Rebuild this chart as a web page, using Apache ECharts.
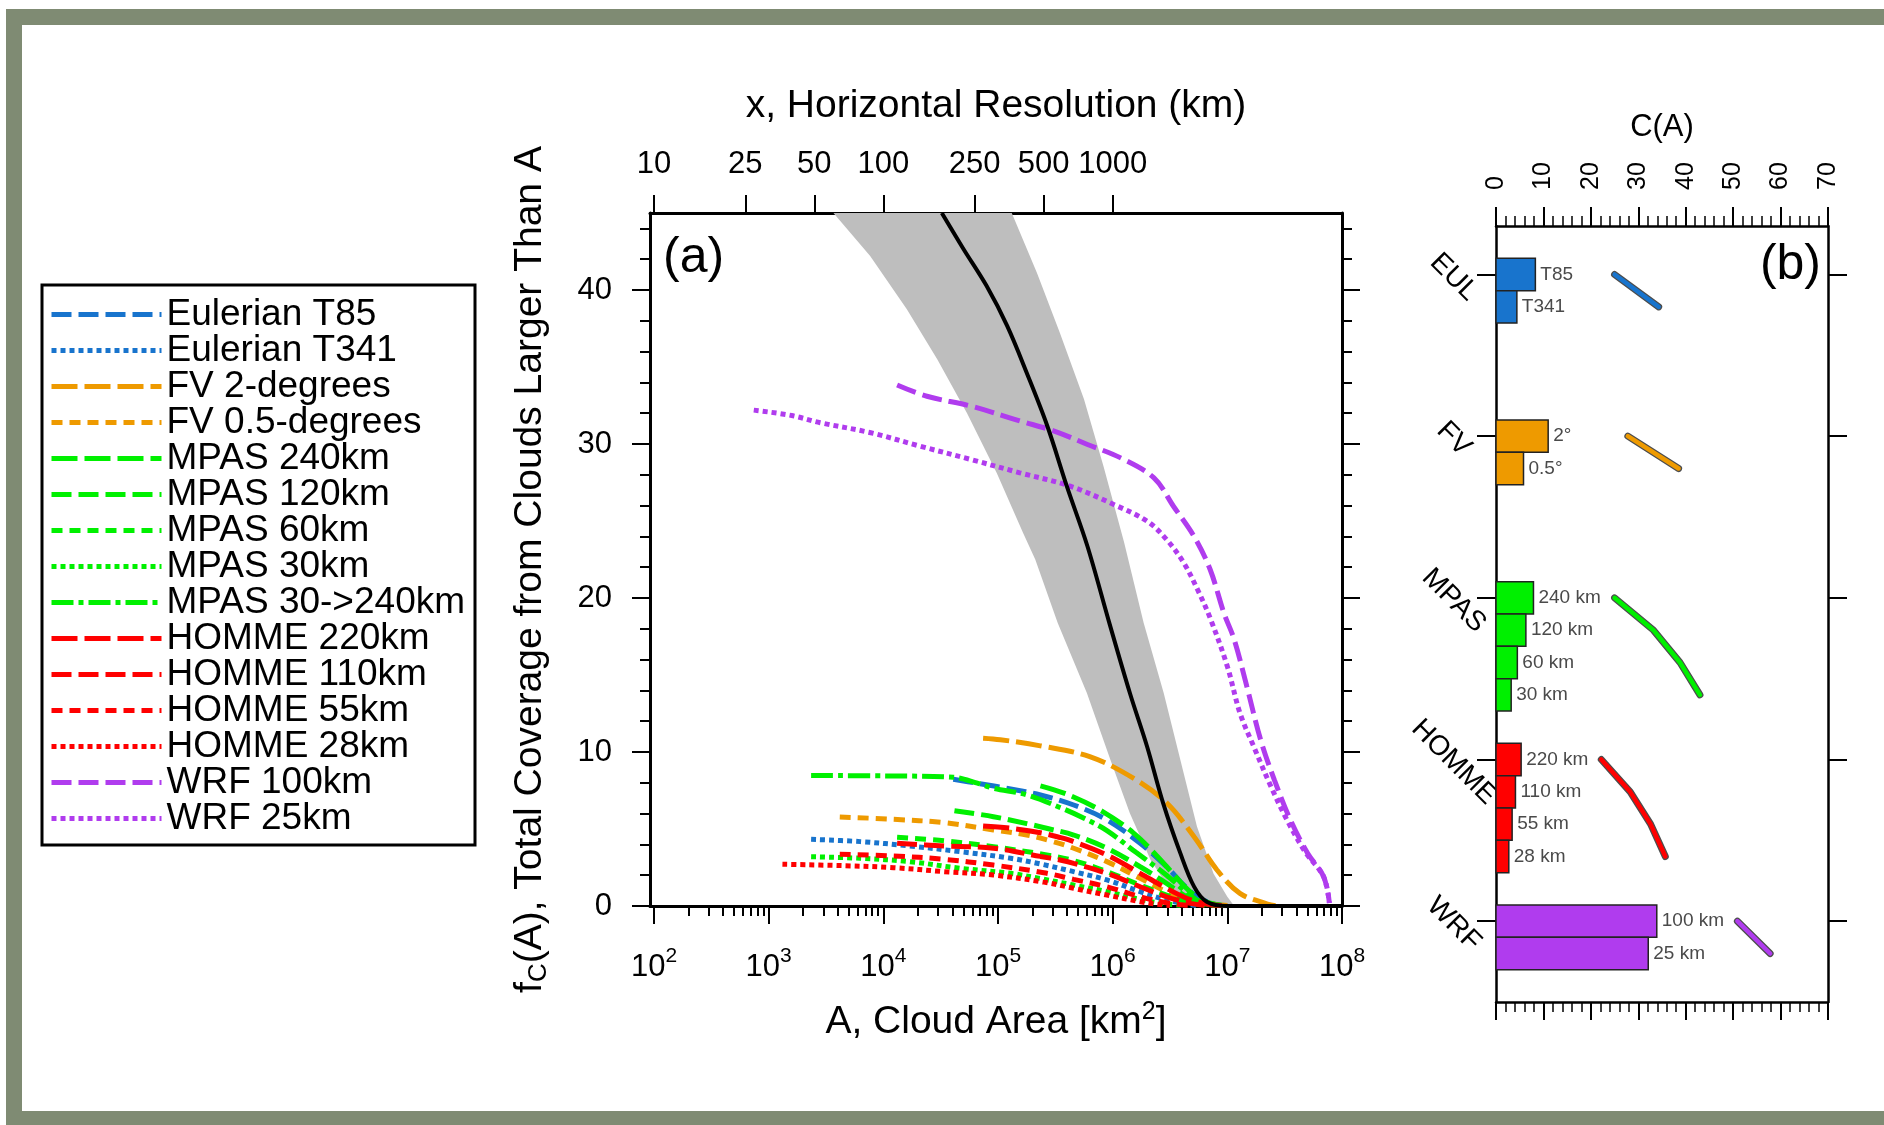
<!DOCTYPE html>
<html><head><meta charset="utf-8">
<script src="https://cdn.jsdelivr.net/npm/echarts@6/dist/echarts.min.js"></script>
<style>html,body{margin:0;padding:0;background:#fff}#c{width:1884px;height:1125px}</style>
</head><body><div id="c"></div>
<script>
// ---------- Panel (a): x = log10(A, km^2), y = f_C(A) ----------
const eulT85 = [[4.61,8.23],[4.82,7.97],[5.11,7.6],[5.37,7.21],[5.66,6.56],[5.95,5.59],[6.24,4.07],[6.47,2.55],[6.62,1.36],[6.74,0.6],[6.88,0.13],[7.0,0.02]];
const eulT341 = [[3.37,4.33],[3.80,4.18],[4.23,3.90],[4.67,3.53],[5.11,3.10],[5.37,2.73],[5.66,2.23],[5.95,1.69],[6.24,0.93],[6.47,0.39],[6.65,0.11],[6.75,0.02]];
const fv2deg = [[4.87,10.9],[5.02,10.8],[5.37,10.4],[5.8,9.7],[6.18,8.3],[6.47,6.7],[6.71,4.5],[6.91,2.34],[7.11,0.82],[7.35,0.13],[7.42,0.02]];
const fv05deg = [[3.62,5.78],[4.09,5.63],[4.53,5.41],[4.96,4.94],[5.25,4.61],[5.45,4.25],[5.66,3.75],[5.95,2.88],[6.24,1.80],[6.47,0.93],[6.68,0.39],[6.88,0.13],[7.0,0.03]];
const mpas240 = [[5.37,7.8],[5.62,7.2],[5.92,6.1],[6.18,4.75],[6.38,3.3],[6.55,1.9],[6.68,0.9],[6.8,0.3],[6.95,0.05]];
const mpas120 = [[4.62,6.19],[4.96,5.80],[5.25,5.35],[5.45,5.0],[5.66,4.61],[5.95,3.75],[6.24,2.55],[6.47,1.47],[6.62,0.71],[6.76,0.21],[6.94,0.05]];
const mpas60 = [[4.12,4.46],[4.53,4.24],[4.96,3.85],[5.40,3.35],[5.66,2.95],[5.95,2.23],[6.24,1.36],[6.47,0.71],[6.68,0.21],[6.82,0.05]];
const mpas30 = [[3.37,3.2],[3.80,3.10],[4.23,2.88],[4.67,2.45],[5.11,2.12],[5.37,1.78],[5.66,1.36],[5.95,0.93],[6.24,0.43],[6.42,0.17],[6.59,0.05]];
const mpas30to240 = [[3.37,8.47],[4.0,8.45],[4.61,8.36],[4.82,7.98],[4.96,7.65],[5.25,7.22],[5.54,6.4],[5.75,5.7],[5.95,4.9],[6.2,3.5],[6.47,2.0],[6.62,1.04],[6.76,0.28],[6.9,0.05]];
const homme220 = [[4.87,5.2],[5.11,5.05],[5.37,4.76],[5.54,4.45],[5.66,4.18],[5.95,3.31],[6.24,2.12],[6.47,1.15],[6.65,0.49],[6.82,0.13],[6.95,0.03]];
const homme110 = [[4.12,4.07],[4.53,3.9],[4.96,3.75],[5.37,3.22],[5.54,2.99],[5.66,2.77],[5.95,2.12],[6.24,1.25],[6.47,0.6],[6.68,0.17],[6.8,0.04]];
const homme55 = [[3.62,3.36],[4.09,3.25],[4.53,3.03],[4.96,2.66],[5.40,2.16],[5.66,1.73],[5.95,1.25],[6.24,0.6],[6.47,0.21],[6.62,0.07],[6.7,0.02]];
const homme28 = [[3.12,2.71],[3.65,2.62],[4.09,2.49],[4.53,2.23],[4.96,2.01],[5.40,1.55],[5.66,1.15],[5.95,0.71],[6.24,0.28],[6.39,0.11],[6.5,0.03]];
const wrf100 = [[4.12,33.83],[4.38,33.1],[4.76,32.47],[5.19,31.5],[5.49,30.84],[5.78,29.97],[6.07,29.1],[6.36,27.8],[6.53,25.96],[6.71,24.0],[6.85,21.85],[6.97,19.03],[7.06,17.3],[7.17,14.26],[7.29,10.8],[7.41,8.19],[7.55,5.59],[7.70,3.43],[7.84,1.9],[7.89,0.2]];
const wrf25 = [[2.87,32.2],[3.2,31.85],[3.45,31.38],[3.89,30.73],[4.32,29.86],[4.76,29.0],[5.19,28.13],[5.63,27.26],[6.01,26.07],[6.30,24.99],[6.47,23.8],[6.62,22.28],[6.74,20.55],[6.85,18.7],[7.0,15.56],[7.11,12.53],[7.23,10.36],[7.38,7.76],[7.52,5.59],[7.68,3.5],[7.84,1.9],[7.89,0.2]];
const fitCurve = [[4.51,45],[4.70,42.65],[4.90,40.27],[5.08,37.67],[5.25,34.63],[5.43,31.17],[5.60,27.26],[5.78,23.36],[5.97,18.4],[6.15,13.83],[6.30,10.36],[6.44,6.68],[6.59,3.43],[6.71,1.26],[6.82,0.28],[7.0,0],[8.0,0]];
const bandLeft = [[3.565,45],[3.885,42.2],[4.205,38.75],[4.47,35.5],[4.73,32.0],[4.99,28.1],[5.22,24.2],[5.325,22.5],[5.52,18.4],[5.775,13.83],[5.98,9.5],[6.15,6.03],[6.33,3.0],[6.50,1.04],[6.65,0.17],[6.76,0]];
const bandRight = [[5.12,45],[5.34,41.1],[5.54,37.2],[5.75,32.9],[5.92,28.56],[6.10,23.6],[6.27,18.4],[6.445,13.83],[6.59,9.5],[6.735,5.16],[6.88,2.1],[7.0,0.6],[7.06,0]];

const areaExponents = [2,3,4,5,6,7,8];           // bottom tick labels 10^n
const resolutionKm = [10,25,50,100,250,500,1000]; // top tick labels (A = x^2)
const coverageTicks = [0,10,20,30,40];

// ---------- Panel (b) ----------
const models = ['EUL','FV','MPAS','HOMME','WRF'];
const barValues = [8.3,4.4, 11.0,5.8, 7.9,6.3,4.5,3.2, 5.3,4.1,3.4,2.7, 33.9,32.1];
const barPositions = [0,0.2, 1,1.2, 2,2.2,2.4,2.6, 3,3.2,3.4,3.6, 4,4.2];
const barModel = [0,0, 1,1, 2,2,2,2, 3,3,3,3, 4,4];
const barLabels = ['T85','T341','2°','0.5°','240 km','120 km','60 km','30 km','220 km','110 km','55 km','28 km','100 km','25 km'];
const eulLine = [[25.0,0],[34.3,0.2]];
const fvLine = [[27.8,1.0],[38.5,1.2]];
const mpasLine = [[25.0,2.0],[33.2,2.2],[38.8,2.4],[43.0,2.6]];
const hommeLine = [[22.2,3.0],[28.3,3.2],[32.6,3.4],[35.7,3.6]];
const wrfLine = [[50.9,4.0],[57.8,4.2]];

const FONT = 'Liberation Sans, Arial, Helvetica, sans-serif';
const BLUE='#1874cd', ORANGE='#ee9a00', GREEN='#00f000', RED='#ff0000', PURPLE='#b03cee';
const modelColors = [BLUE, ORANGE, GREEN, RED, PURPLE];

const LONG=[26,7], MED=[20,7], SHORT=[11,7], DOT=[5,4], DASHDOT=[22,5,5,5];
const curves = [
  {name:'Eulerian T85', data:eulT85, color:BLUE, dash:MED},
  {name:'Eulerian T341', data:eulT341, color:BLUE, dash:DOT},
  {name:'FV 2-degrees', data:fv2deg, color:ORANGE, dash:LONG},
  {name:'FV 0.5-degrees', data:fv05deg, color:ORANGE, dash:SHORT},
  {name:'MPAS 240km', data:mpas240, color:GREEN, dash:LONG},
  {name:'MPAS 120km', data:mpas120, color:GREEN, dash:MED},
  {name:'MPAS 60km', data:mpas60, color:GREEN, dash:SHORT},
  {name:'MPAS 30km', data:mpas30, color:GREEN, dash:DOT},
  {name:'MPAS 30->240km', data:mpas30to240, color:GREEN, dash:DASHDOT},
  {name:'HOMME 220km', data:homme220, color:RED, dash:LONG},
  {name:'HOMME 110km', data:homme110, color:RED, dash:MED},
  {name:'HOMME 55km', data:homme55, color:RED, dash:SHORT},
  {name:'HOMME 28km', data:homme28, color:RED, dash:DOT},
  {name:'WRF 100km', data:wrf100, color:PURPLE, dash:MED},
  {name:'WRF 25km', data:wrf25, color:PURPLE, dash:DOT}
];

const XMIN = 1.965, XMAX = 8;
const majorLog = areaExponents.slice();
const minorLog = [];
for (let n = 2; n < 8; n++) for (let k = 2; k <= 9; k++) minorLog.push(n + Math.log10(k));
const resPos = resolutionKm.map(r => 2 * Math.log10(r));
const yMinor = [];
for (let v = 2; v <= 44; v += 2) if (v % 10 !== 0) yMinor.push(v);

const black = '#000';
const tickStyle = {color: black, width: 2};
const noSplit = {show: false};

const G0 = {left: 650, top: 213, width: 692, height: 693, outerBoundsMode: 'none', containLabel: false};
const G2 = {left: 1496, top: 226, width: 332, height: 776, outerBoundsMode: 'none', containLabel: false};

const option = {
  animation: false,
  backgroundColor: '#fff',
  textStyle: {fontFamily: FONT},
  grid: [G0, Object.assign({}, G0), G2],
  legend: {
    orient: 'vertical', left: 49, top: 296, padding: 0, itemGap: -1,
    itemWidth: 110, itemHeight: 20, selectedMode: false,
    data: curves.map(c => c.name),
    lineStyle: {width: 5},
    itemStyle: {opacity: 0, color: 'rgba(0,0,0,0)', borderWidth: 0},
    textStyle: {fontSize: 37, lineHeight: 36, color: black, fontFamily: FONT}
  },
  xAxis: [
    {gridIndex: 0, type: 'value', min: XMIN, max: XMAX, position: 'bottom',
     axisLine: {show: true, onZero: false, lineStyle: {color: black, width: 3}},
     axisTick: {show: true, customValues: majorLog, length: 18, lineStyle: tickStyle},
     axisLabel: {show: true, customValues: majorLog, margin: 40,
       formatter: v => '{b|10}{s|' + Math.round(v) + '}',
       rich: {b: {fontSize: 31, fontFamily: FONT, color: black, lineHeight: 42},
              s: {fontSize: 21, fontFamily: FONT, color: black, lineHeight: 21, verticalAlign: 'top'}}},
     splitLine: noSplit,
     name: 'A, Cloud Area [km{s|2}]', nameLocation: 'middle', nameGap: 94,
     nameTextStyle: {fontSize: 39, fontFamily: FONT, color: black, lineHeight: 44,
       rich: {s: {fontSize: 25, fontFamily: FONT, color: black, lineHeight: 25, verticalAlign: 'top'}}}},
    {gridIndex: 0, type: 'value', min: XMIN, max: XMAX, position: 'top',
     axisLine: {show: true, onZero: false, lineStyle: {color: black, width: 3}},
     axisTick: {show: true, customValues: resPos, length: 18, lineStyle: tickStyle},
     axisLabel: {show: true, customValues: resPos, margin: 33, fontSize: 31, color: black, fontFamily: FONT,
       formatter: v => { const i = resPos.findIndex(p => Math.abs(p - v) < 1e-6); return i >= 0 ? String(resolutionKm[i]) : ''; }},
     splitLine: noSplit,
     name: 'x, Horizontal Resolution (km)', nameLocation: 'middle', nameGap: 87,
     nameTextStyle: {fontSize: 39, fontFamily: FONT, color: black}},
    {gridIndex: 1, type: 'value', min: XMIN, max: XMAX, position: 'bottom',
     axisLine: {show: false, onZero: false},
     axisTick: {show: true, customValues: minorLog, length: 10, lineStyle: tickStyle},
     axisLabel: {show: false}, splitLine: noSplit},
    {gridIndex: 2, type: 'value', min: 0, max: 70, interval: 10, position: 'top',
     axisLine: {show: true, onZero: false, lineStyle: {color: black, width: 2.5}},
     axisTick: {show: true, length: 19, lineStyle: tickStyle},
     minorTick: {show: true, splitNumber: 5, length: 10, lineStyle: {color: black, width: 1.5}},
     axisLabel: {show: true, rotate: -90, margin: 36, fontSize: 25, color: black, fontFamily: FONT},
     splitLine: noSplit, minorSplitLine: {show: false},
     name: 'C(A)', nameLocation: 'middle', nameGap: 83,
     nameTextStyle: {fontSize: 31, fontFamily: FONT, color: black}},
    {gridIndex: 2, type: 'value', min: 0, max: 70, interval: 10, position: 'bottom',
     axisLine: {show: true, onZero: false, lineStyle: {color: black, width: 2.5}},
     axisTick: {show: true, length: 18, lineStyle: tickStyle},
     minorTick: {show: true, splitNumber: 5, length: 10, lineStyle: {color: black, width: 1.5}},
     axisLabel: {show: false}, splitLine: noSplit, minorSplitLine: {show: false}}
  ],
  yAxis: [
    {gridIndex: 0, type: 'value', min: 0, max: 45, position: 'left',
     axisLine: {show: true, onZero: false, lineStyle: {color: black, width: 3}},
     axisTick: {show: true, customValues: coverageTicks, length: 18, lineStyle: tickStyle},
     axisLabel: {show: true, customValues: coverageTicks, margin: 38, fontSize: 31, color: black, fontFamily: FONT},
     splitLine: noSplit,
     name: 'f{sub|C}(A), Total Coverage from Clouds Larger Than A', nameLocation: 'middle', nameGap: 98, nameRotate: 90,
     nameTextStyle: {fontSize: 39, fontFamily: FONT, color: black, lineHeight: 44, padding: [0, 20, 0, 0],
       rich: {sub: {fontSize: 26, fontFamily: FONT, color: black, lineHeight: 26, verticalAlign: 'bottom'}}}},
    {gridIndex: 0, type: 'value', min: 0, max: 45, position: 'right',
     axisLine: {show: true, onZero: false, lineStyle: {color: black, width: 3}},
     axisTick: {show: true, customValues: coverageTicks, length: 18, lineStyle: tickStyle},
     axisLabel: {show: false}, splitLine: noSplit},
    {gridIndex: 1, type: 'value', min: 0, max: 45, position: 'left',
     axisLine: {show: false, onZero: false},
     axisTick: {show: true, customValues: yMinor, length: 10, lineStyle: tickStyle},
     axisLabel: {show: false}, splitLine: noSplit},
    {gridIndex: 1, type: 'value', min: 0, max: 45, position: 'right',
     axisLine: {show: false, onZero: false},
     axisTick: {show: true, customValues: yMinor, length: 10, lineStyle: tickStyle},
     axisLabel: {show: false}, splitLine: noSplit},
    {gridIndex: 2, type: 'value', min: -0.3, max: 4.5, inverse: true, position: 'left',
     axisLine: {show: true, onZero: false, lineStyle: {color: black, width: 2.5}},
     axisTick: {show: true, customValues: [0,1,2,3,4], length: 19, lineStyle: tickStyle},
     axisLabel: {show: true, customValues: [0,1,2,3,4], rotate: -45, align: 'center', verticalAlign: 'middle',
       margin: 45, fontSize: 28, color: black, fontFamily: FONT, padding: [8, 0, 0, 8],
       formatter: v => models[Math.round(v)] || ''},
     splitLine: noSplit},
    {gridIndex: 2, type: 'value', min: -0.3, max: 4.5, inverse: true, position: 'right',
     axisLine: {show: true, onZero: false, lineStyle: {color: black, width: 2.5}},
     axisTick: {show: true, customValues: [0,1,2,3,4], length: 19, lineStyle: tickStyle},
     axisLabel: {show: false}, splitLine: noSplit}
  ],
  graphic: [
    {type: 'rect', shape: {x: 6, y: 9, width: 16, height: 1116}, style: {fill: '#7f8b73'}, silent: true},
    {type: 'rect', shape: {x: 6, y: 9, width: 1878, height: 16}, style: {fill: '#7f8b73'}, silent: true},
    {type: 'rect', shape: {x: 6, y: 1111, width: 1878, height: 14}, style: {fill: '#7f8b73'}, silent: true},
    {type: 'rect', shape: {x: 42, y: 285, width: 433, height: 560}, style: {fill: 'none', stroke: black, lineWidth: 3}, silent: true},
    {type: 'text', x: 663, y: 258, style: {text: '(a)', font: '50px ' + FONT, fill: black, align: 'left', verticalAlign: 'middle'}, silent: true},
    {type: 'text', x: 1821, y: 265, style: {text: '(b)', font: '50px ' + FONT, fill: black, align: 'right', verticalAlign: 'middle'}, silent: true}
  ],
  series: []
};

// gray uncertainty band
option.series.push({
  type: 'custom', xAxisIndex: 0, yAxisIndex: 0, z: 1, silent: true,
  data: [[6, 10]],
  renderItem: (params, api) => {
    const pts = bandLeft.map(p => api.coord(p)).concat(bandRight.slice().reverse().map(p => api.coord(p)));
    return {type: 'polygon', shape: {points: pts}, style: {fill: '#bebebe'}};
  }
});

curves.forEach(c => option.series.push({
  type: 'line', name: c.name, data: c.data, xAxisIndex: 0, yAxisIndex: 0,
  symbol: 'none', showSymbol: false, smooth: 0.35, z: 3, silent: true,
  itemStyle: {color: c.color},
  lineStyle: {color: c.color, width: 5, type: c.dash}
}));

option.series.push({
  type: 'line', name: 'fit', data: fitCurve, xAxisIndex: 0, yAxisIndex: 0,
  symbol: 'none', smooth: 0.35, z: 4, silent: true,
  lineStyle: {color: black, width: 4}
});

// panel (b) bars
option.series.push({
  type: 'custom', xAxisIndex: 3, yAxisIndex: 4, z: 2, silent: true,
  data: barValues.map((v, i) => [v, barPositions[i], i]),
  renderItem: (params, api) => {
    const v = api.value(0), p = api.value(1), i = api.value(2);
    const a = api.coord([0, p - 0.1]), b = api.coord([v, p + 0.1]);
    const y0 = Math.min(a[1], b[1]), h = Math.abs(b[1] - a[1]);
    return {type: 'group', children: [
      {type: 'rect', shape: {x: a[0], y: y0, width: b[0] - a[0], height: h},
       style: {fill: modelColors[barModel[i]], stroke: '#222', lineWidth: 1.5}},
      {type: 'text', style: {text: barLabels[i], x: b[0] + 5, y: y0 + h / 2, fill: '#4a4a4a',
       font: '19px ' + FONT, align: 'left', verticalAlign: 'middle'}}
    ]};
  }
});

// panel (b) lines
[[eulLine, BLUE], [fvLine, ORANGE], [mpasLine, GREEN], [hommeLine, RED], [wrfLine, PURPLE]].forEach(([d, col]) => {
  option.series.push({type: 'line', data: d, xAxisIndex: 3, yAxisIndex: 4, symbol: 'none', z: 3, silent: true,
    lineStyle: {color: '#4d4d4d', width: 7, cap: 'round', join: 'round'}});
  option.series.push({type: 'line', data: d, xAxisIndex: 3, yAxisIndex: 4, symbol: 'none', z: 4, silent: true,
    lineStyle: {color: col, width: 4.5, cap: 'round', join: 'round'}});
});

const chart = echarts.init(document.getElementById('c'), null, {renderer: 'canvas'});
chart.setOption(option);
</script>
</body></html>
